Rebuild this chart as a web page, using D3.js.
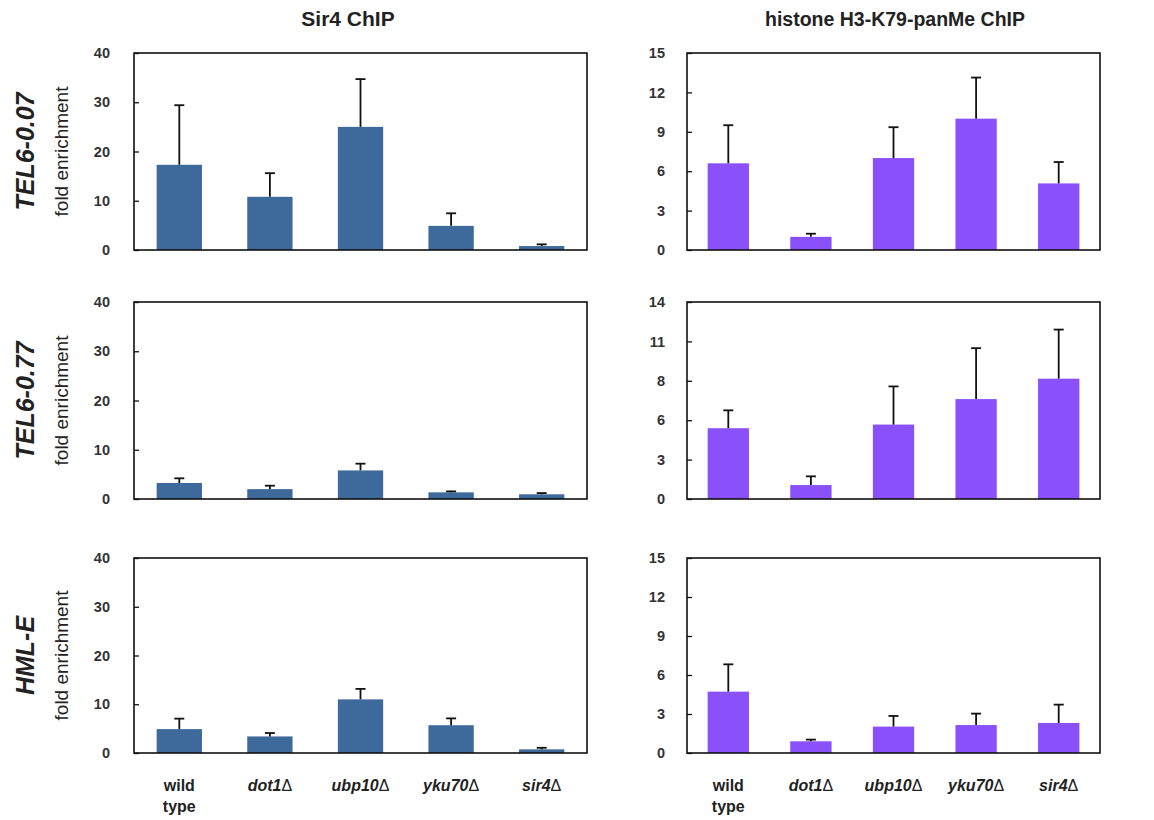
<!DOCTYPE html>
<html>
<head>
<meta charset="utf-8">
<script src="https://cdn.jsdelivr.net/npm/d3@7"></script>
<style>
  html, body { margin: 0; padding: 0; background: #fff; }
  svg { display: block; font-family: "Liberation Sans", Arial, Helvetica, sans-serif; }
</style>
</head>
<body>
<svg id="chart" width="1154" height="820"></svg>
<script>
// Strains (x categories) and genomic loci (rows)
const strains = ["wild type", "dot1Δ", "ubp10Δ", "yku70Δ", "sir4Δ"];
const loci = ["TEL6-0.07", "TEL6-0.77", "HML-E"];
const columnTitles = ["Sir4 ChIP", "histone H3-K79-panMe ChIP"];

// Sir4 ChIP: mean fold enrichment and upper error (SD)
const sir4_TEL6_007 = [17.3, 10.8, 25.0, 4.9, 0.8];
const sir4_TEL6_007_err = [12.1, 4.8, 9.7, 2.55, 0.35];
const sir4_TEL6_077 = [3.25, 2.0, 5.8, 1.35, 0.95];
const sir4_TEL6_077_err = [0.95, 0.7, 1.37, 0.2, 0.25];
const sir4_HML_E = [4.9, 3.4, 11.0, 5.7, 0.75];
const sir4_HML_E_err = [2.15, 0.7, 2.15, 1.4, 0.32];

// H3-K79 methylation ChIP: mean fold enrichment and upper error (SD)
const k79_TEL6_007 = [6.6, 1.0, 7.0, 10.0, 5.07];
const k79_TEL6_007_err = [2.9, 0.24, 2.35, 3.13, 1.63];
const k79_TEL6_077 = [5.03, 0.99, 5.29, 7.1, 8.55];
const k79_TEL6_077_err = [1.27, 0.62, 2.71, 3.62, 3.49];
const k79_HML_E = [4.72, 0.9, 2.03, 2.15, 2.31];
const k79_HML_E_err = [2.1, 0.13, 0.82, 0.88, 1.41];

// Y-axis tick values and their printed labels
const sir4Ticks = [0, 10, 20, 30, 40];
const sir4TickLabels = ["0", "10", "20", "30", "40"];
const k79Ticks15 = [0, 3, 6, 9, 12, 15];
const k79TickLabels15 = ["0", "3", "6", "9", "12", "15"];
const k79Ticks14 = [0, 2.8, 5.6, 8.4, 11.2, 14];
const k79TickLabels14 = ["0", "3", "6", "8", "11", "14"];

// Panel definitions (row, column) built from the arrays above
const panels = [
  { row: 0, col: 0, values: sir4_TEL6_007, err: sir4_TEL6_007_err, max: 40, ticks: sir4Ticks, labels: sir4TickLabels },
  { row: 1, col: 0, values: sir4_TEL6_077, err: sir4_TEL6_077_err, max: 40, ticks: sir4Ticks, labels: sir4TickLabels },
  { row: 2, col: 0, values: sir4_HML_E, err: sir4_HML_E_err, max: 40, ticks: sir4Ticks, labels: sir4TickLabels },
  { row: 0, col: 1, values: k79_TEL6_007, err: k79_TEL6_007_err, max: 15, ticks: k79Ticks15, labels: k79TickLabels15 },
  { row: 1, col: 1, values: k79_TEL6_077, err: k79_TEL6_077_err, max: 14, ticks: k79Ticks14, labels: k79TickLabels14 },
  { row: 2, col: 1, values: k79_HML_E, err: k79_HML_E_err, max: 15, ticks: k79Ticks15, labels: k79TickLabels15 }
];

// Layout
const colX = [[134, 587], [687, 1100]];
const rowY = [[53, 250], [302, 499], [558, 753]];
const colColor = ["#3d6a9a", "#8a50fa"];
const titleX = [348, 895];
const titleSize = [21, 19.5];
const tickPad = [24, 22];

const svg = d3.select("#chart");

// Column titles
svg.selectAll("text.col-title")
  .data(columnTitles)
  .join("text")
  .attr("class", "col-title")
  .attr("x", (d, i) => titleX[i])
  .attr("y", 26)
  .attr("text-anchor", "middle")
  .attr("font-size", (d, i) => titleSize[i])
  .attr("font-weight", "bold")
  .attr("fill", "#222")
  .text(d => d);

// Row labels with "fold enrichment" subtitle
loci.forEach((name, r) => {
  const cy = (rowY[r][0] + rowY[r][1]) / 2;
  svg.append("text")
    .attr("transform", `translate(34,${cy}) rotate(-90)`)
    .attr("text-anchor", "middle")
    .attr("font-size", 25)
    .attr("font-weight", "bold")
    .attr("font-style", "italic")
    .attr("fill", "#222")
    .text(name);
  svg.append("text")
    .attr("transform", `translate(68,${cy}) rotate(-90)`)
    .attr("text-anchor", "middle")
    .attr("font-size", 19)
    .attr("fill", "#222")
    .text("fold enrichment");
});

panels.forEach(p => {
  const [x0, x1] = colX[p.col];
  const [y0, y1] = rowY[p.row];

  const x = d3.scaleBand().domain(strains).range([x0, x1]).paddingInner(0.5).paddingOuter(0.25);
  const y = d3.scaleLinear().domain([0, p.max]).range([y1, y0]);

  const g = svg.append("g");
  const rows = strains.map((s, i) => ({ s, v: p.values[i], e: p.err[i] }));

  // Bars
  g.selectAll("rect.bar")
    .data(rows)
    .join("rect")
    .attr("class", "bar")
    .attr("x", d => x(d.s))
    .attr("width", x.bandwidth())
    .attr("y", d => y(d.v))
    .attr("height", d => y(0) - y(d.v))
    .attr("fill", colColor[p.col]);

  // Upper error bars
  const eb = g.selectAll("g.err")
    .data(rows)
    .join("g")
    .attr("class", "err")
    .attr("stroke", "#111")
    .attr("stroke-width", 1.8);
  eb.append("line")
    .attr("x1", d => x(d.s) + x.bandwidth() / 2)
    .attr("x2", d => x(d.s) + x.bandwidth() / 2)
    .attr("y1", d => y(d.v))
    .attr("y2", d => y(d.v + d.e));
  eb.append("line")
    .attr("x1", d => x(d.s) + x.bandwidth() / 2 - 5)
    .attr("x2", d => x(d.s) + x.bandwidth() / 2 + 5)
    .attr("y1", d => y(d.v + d.e))
    .attr("y2", d => y(d.v + d.e));

  // Y axis with inward ticks
  const axis = d3.axisLeft(y)
    .tickValues(p.ticks)
    .tickFormat((d, i) => p.labels[i])
    .tickSizeInner(-5)
    .tickSizeOuter(0)
    .tickPadding(tickPad[p.col]);
  const ag = g.append("g").attr("transform", `translate(${x0},0)`).call(axis);
  ag.select(".domain").remove();
  ag.selectAll(".tick line").attr("stroke", "#111").attr("stroke-width", 1.3);
  ag.selectAll(".tick text")
    .attr("font-size", 14.5)
    .attr("font-weight", "bold")
    .attr("font-family", "\"Liberation Sans\", Arial, sans-serif")
    .attr("fill", "#333");

  // Plot frame
  g.append("rect")
    .attr("x", x0).attr("y", y0)
    .attr("width", x1 - x0).attr("height", y1 - y0)
    .attr("fill", "none")
    .attr("stroke", "#111")
    .attr("stroke-width", 1.6);

  // Strain labels under the bottom row
  if (p.row === 2) {
    const lab = g.selectAll("text.strain")
      .data(strains)
      .join("text")
      .attr("class", "strain")
      .attr("x", d => x(d) + x.bandwidth() / 2)
      .attr("y", 791)
      .attr("text-anchor", "middle")
      .attr("font-size", 16)
      .attr("font-weight", "bold")
      .attr("fill", "#222");
    lab.each(function (d) {
      const t = d3.select(this);
      if (d === "wild type") {
        t.append("tspan").attr("x", t.attr("x")).attr("dy", 0).text("wild");
        t.append("tspan").attr("x", t.attr("x")).attr("dy", 21).text("type");
      } else {
        const base = d.replace("Δ", "");
        t.append("tspan").attr("font-style", "italic").text(base);
        t.append("tspan").attr("font-weight", "normal").text("Δ");
      }
    });
  }
});
</script>
</body>
</html>
